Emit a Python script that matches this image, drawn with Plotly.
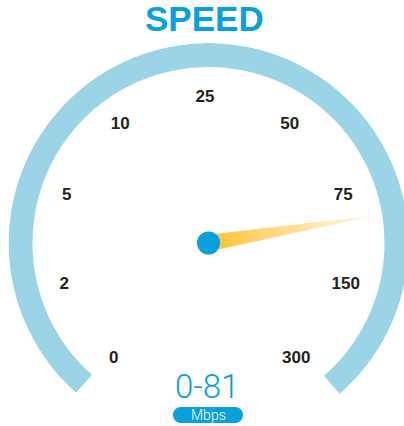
import numpy as np
import plotly.graph_objects as go

# ---------------- data ----------------
scale_labels = ["0", "2", "5", "10", "25", "50", "75", "150", "300"]
scale_values = [0, 2, 5, 10, 25, 50, 75, 150, 300]
needle_value = 96          # where the needle points on the dial
readout_text = "0-81"
unit_text = "Mbps"
title_text = "SPEED"

# ---------------- style / layout constants ----------------
W, H = 412, 426            # figure (right edge of dial runs past the 404px window, as in the reference)
CX, CY = 208.5, 243.0      # dial centre (px)
LCX, LCY = 205.0, 244.5    # centre of the ring of scale labels (px)
R = 200.0                  # polar radius (px) == radial range max
STEP = 35.375              # degrees per scale division
ZERO_ANGLE = 231.5         # screen angle of scale position 0
ARC_T0, ARC_T1 = 3.0, 280.5
ARC_IN, ARC_OUT = 176.0, 200.0
LABEL_R = 146.5
NEEDLE_LEN = 165.0
NEEDLE_W0 = 8.0
SECTOR = [-56, 236]

BLUE = "#0aa0dc"
ARC = "#9bd4e7"
INK = "#231f20"

idx = np.arange(len(scale_values))
label_theta = idx * STEP
needle_theta = np.interp(needle_value, scale_values, idx) * STEP

fig = go.Figure()

# dial arc
fig.add_trace(go.Barpolar(
    r=[ARC_OUT - ARC_IN], base=[ARC_IN],
    theta=[(ARC_T0 + ARC_T1) / 2], width=[ARC_T1 - ARC_T0],
    marker=dict(color=ARC, line=dict(width=0)),
    hoverinfo="skip", showlegend=False, subplot="polar",
))

# needle with gradient (split into segments)
n = 48
ds = np.linspace(0, NEEDLE_LEN, n + 1)
c0 = np.array([253, 192, 45])
c1 = np.array([255, 248, 232])
def hw(d):
    return NEEDLE_W0 * (1 - d / NEEDLE_LEN)
for i in range(n):
    d0, d1 = ds[i], ds[i + 1] + (0.6 if i < n - 1 else 0)
    d1c = min(d1, NEEDLE_LEN)
    pts = [(d0, hw(d0)), (d1, hw(d1c)), (d1, -hw(d1c)), (d0, -hw(d0))]
    rr = [np.hypot(d, w) for d, w in pts]
    tt = [needle_theta - np.degrees(np.arctan2(w, d)) for d, w in pts]
    t = (i / (n - 1)) ** 0.9
    c = c0 + (c1 - c0) * t
    col = "rgb(%d,%d,%d)" % tuple(np.round(c).astype(int))
    fig.add_trace(go.Scatterpolar(
        r=rr + [rr[0]], theta=tt + [tt[0]], mode="lines", fill="toself",
        fillcolor=col, line=dict(width=0.5, color=col),
        hoverinfo="skip", showlegend=False, subplot="polar",
    ))

# centre hub
fig.add_trace(go.Scatterpolar(
    r=[0.01], theta=[needle_theta], mode="markers", cliponaxis=False,
    marker=dict(size=23, color=BLUE, line=dict(width=0)),
    hoverinfo="skip", showlegend=False, subplot="polar",
))

# scale labels
fig.add_trace(go.Scatterpolar(
    r=[LABEL_R] * len(scale_labels), theta=label_theta, mode="text", cliponaxis=False,
    text=scale_labels, textposition="middle center",
    textfont=dict(family="Liberation Sans, Arial, sans-serif", size=17, color=INK, weight="bold"),
    hoverinfo="skip", showlegend=False, subplot="polar2",
))

sb = np.sin(np.radians(-SECTOR[0]))
def polar_layout(cx, cy):
    return dict(
        domain=dict(x=[(cx - R) / W, (cx + R) / W],
                    y=[1 - (cy + R * sb) / H, 1 - (cy - R) / H]),
        sector=SECTOR,
        bgcolor="rgba(0,0,0,0)",
        angularaxis=dict(visible=False, rotation=ZERO_ANGLE, direction="clockwise",
                         thetaunit="degrees"),
        radialaxis=dict(visible=False, range=[0, R]),
    )

fig.update_layout(
    width=W, height=H,
    margin=dict(l=0, r=0, t=0, b=0),
    paper_bgcolor="white",
    polar=polar_layout(CX, CY),
    polar2=polar_layout(LCX, LCY),
    showlegend=False,
)

# title
fig.add_annotation(text=title_text, x=204 / W, y=1 - 19 / H, xref="paper", yref="paper",
                   xanchor="center", yanchor="middle", showarrow=False,
                   font=dict(family="Liberation Sans, Arial, sans-serif", size=35, color=BLUE, weight="bold"))
# readout
fig.add_annotation(text=readout_text, x=206.5 / W, y=1 - 386 / H, xref="paper", yref="paper",
                   xanchor="center", yanchor="middle", showarrow=False,
                   font=dict(family="Roboto, Lato, sans-serif", size=33, color=BLUE, weight=300))
# unit pill
x0, x1, y0, y1, rp = 173, 243, 407, 423, 8
def px(x):
    return x / W
def py(y):
    return 1 - y / H
path = (f"M {px(x0 + rp)},{py(y0)} L {px(x1 - rp)},{py(y0)} "
        f"C {px(x1 + rp * 0.33)},{py(y0)} {px(x1 + rp * 0.33)},{py(y1)} {px(x1 - rp)},{py(y1)} "
        f"L {px(x0 + rp)},{py(y1)} "
        f"C {px(x0 - rp * 0.33)},{py(y1)} {px(x0 - rp * 0.33)},{py(y0)} {px(x0 + rp)},{py(y0)} Z")
fig.add_shape(type="path", path=path, xref="paper", yref="paper",
              fillcolor=BLUE, line=dict(width=0), layer="above")
fig.add_annotation(text=unit_text, x=208 / W, y=1 - 415 / H, xref="paper", yref="paper",
                   xanchor="center", yanchor="middle", showarrow=False,
                   font=dict(family="Roboto, Lato, sans-serif", size=14, color="white", weight=300))

fig.write_html("out.html", config={"displayModeBar": False},
               post_script="document.body.style.margin='0';document.body.style.overflow='hidden';")
